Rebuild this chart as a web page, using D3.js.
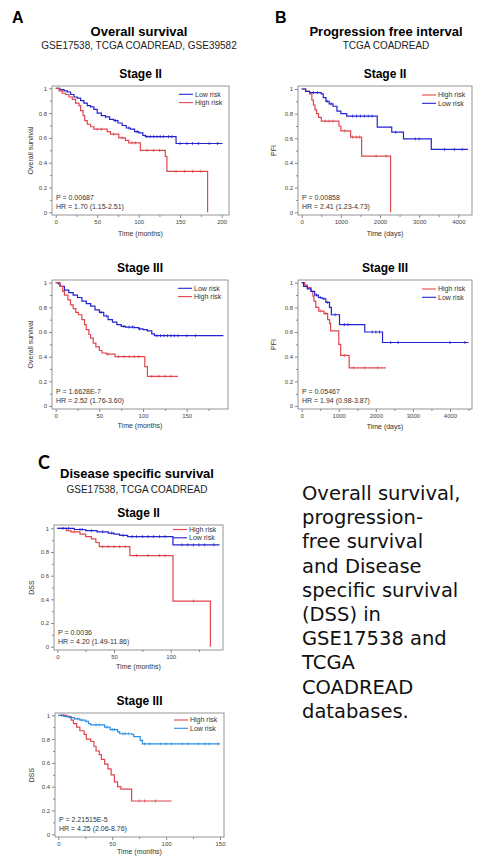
<!DOCTYPE html>
<html>
<head>
<meta charset="utf-8">
<script src="https://cdn.jsdelivr.net/npm/d3@7"></script>
<style>
  body { margin: 0; background: #fff; }
  svg { display: block; }
</style>
</head>
<body>
<script>
// ---- data ----
var yTicks = [0, 0.2, 0.4, 0.6, 0.8, 1];
var monthTicks = [0, 50, 100, 150, 200];
var dayTicks = [0, 1000, 2000, 3000, 4000];

// A: overall survival, stage II  [time (months), survival]
var osIILow = [[0,1],[5,0.99],[10,0.98],[14,0.97],[18,0.95],[22,0.93],[26,0.92],[30,0.9],[34,0.88],[38,0.86],[42,0.85],[46,0.83],[50,0.8],[55,0.78],[60,0.77],[65,0.75],[70,0.74],[75,0.72],[80,0.7],[85,0.68],[90,0.67],[95,0.65],[100,0.64],[105,0.62],[108,0.61],[145,0.555],[201,0.555]];
var osIILowCens = [60,72,88,98,110,114,118,122,126,130,136,140,150,158,165,172,185,195];
var osIIHigh = [[0,1],[4,0.98],[8,0.96],[12,0.95],[16,0.93],[20,0.91],[24,0.88],[28,0.86],[30,0.82],[33,0.78],[35,0.74],[38,0.71],[42,0.69],[46,0.67],[62,0.65],[66,0.63],[76,0.6],[84,0.58],[88,0.56],[102,0.5],[132,0.45],[134,0.33],[183,0]];
var osIIHighCens = [50,55,70,80,92,96,110,118,125,145,155,165,175];

// A: overall survival, stage III
var osIIILow = [[0,1],[3,0.99],[5,0.97],[10,0.94],[15,0.92],[20,0.9],[25,0.88],[30,0.85],[35,0.83],[40,0.81],[45,0.78],[50,0.76],[55,0.73],[60,0.7],[65,0.68],[70,0.66],[75,0.645],[80,0.64],[90,0.635],[95,0.625],[100,0.62],[105,0.61],[110,0.585],[113,0.57],[192,0.57]];
var osIIILowCens = [52,58,78,84,88,96,116,120,124,128,132,136,140,150,160];
var osIIIHigh = [[0,1],[5,0.97],[8,0.93],[10,0.9],[14,0.86],[17,0.82],[20,0.79],[23,0.76],[26,0.74],[30,0.7],[33,0.66],[35,0.62],[38,0.58],[40,0.55],[43,0.51],[46,0.48],[50,0.45],[53,0.43],[58,0.42],[68,0.4],[102,0.32],[105,0.24],[140,0.24]];
var osIIIHighCens = [60,72,78,84,90,95,110,118,125,132];

// B: progression free interval, stage II  [time (days), PFI]
var pfiIIHigh = [[0,1],[100,0.98],[200,0.96],[260,0.91],[300,0.87],[340,0.83],[380,0.8],[430,0.77],[500,0.74],[950,0.7],[1000,0.66],[1250,0.61],[1530,0.455],[2270,0]];
var pfiIIHighCens = [600,700,800,1100,1300,1400,1480,1900,2150];
var pfiIILow = [[0,1],[100,0.98],[200,0.97],[500,0.96],[550,0.93],[620,0.9],[700,0.88],[800,0.86],[900,0.82],[1000,0.8],[1150,0.78],[1930,0.69],[2300,0.65],[2600,0.595],[3310,0.51],[4250,0.51]];
var pfiIILowCens = [300,400,650,750,1300,1400,1500,1600,1700,1800,2400,2900,3000,3650,3900,4100];

// B: progression free interval, stage III
var pfiIIIHigh = [[0,1],[80,0.98],[150,0.96],[250,0.93],[300,0.89],[330,0.85],[380,0.8],[460,0.77],[600,0.75],[700,0.7],[750,0.67],[780,0.61],[1000,0.5],[1050,0.41],[1280,0.31],[2270,0.31]];
var pfiIIIHighCens = [500,650,1150,1400,1700,2050];
var pfiIIILow = [[0,1],[50,0.97],[150,0.95],[250,0.93],[350,0.9],[450,0.88],[550,0.87],[650,0.84],[750,0.8],[800,0.74],[1020,0.66],[1700,0.6],[2180,0.515],[4500,0.515]];
var pfiIIILowCens = [400,500,600,700,900,1150,1250,1900,2000,2100,2400,2600,4000,4400];

// C: disease specific survival, stage II  [time (months), DSS]
var dssIIHigh = [[0,1],[8,0.98],[12,0.97],[20,0.95],[25,0.93],[30,0.91],[34,0.88],[37,0.845],[64,0.77],[102,0.385],[135,0]];
var dssIIHighCens = [15,40,45,50,55,60,70,80,90,95,120];
var dssIILow = [[0,1],[15,0.99],[25,0.98],[35,0.97],[45,0.96],[50,0.95],[55,0.94],[62,0.93],[102,0.86],[143,0.86]];
var dssIILowCens = [5,10,20,22,30,40,48,58,66,70,75,80,85,90,95,110,115,120,125,130,138];

// C: disease specific survival, stage III
var dssIIIHigh = [[0,1],[8,0.99],[12,0.96],[14,0.93],[17,0.9],[20,0.87],[24,0.84],[26,0.8],[30,0.78],[33,0.74],[35,0.7],[38,0.67],[40,0.63],[43,0.59],[46,0.55],[49,0.5],[52,0.44],[55,0.4],[58,0.38],[68,0.28],[105,0.28]];
var dssIIIHighCens = [5,10,75,80,90];
var dssIIILow = [[0,1],[5,0.99],[10,0.98],[15,0.97],[20,0.96],[25,0.95],[28,0.93],[30,0.92],[43,0.9],[48,0.88],[55,0.86],[57,0.845],[68,0.84],[70,0.82],[76,0.79],[78,0.76],[150,0.76]];
var dssIIILowCens = [3,8,12,18,22,26,35,38,45,50,52,60,62,65,80,85,95,100,105,115,120,130,136,140,148];

var RED = "#e0474c", BLUE = "#2323cf", SKY = "#2e8fe3";

var paragraph = ["Overall survival,", "progression-", "free survival", "and Disease", "specific survival",
                 "(DSS) in", "GSE17538 and", "TCGA", "COADREAD", "databases."];

// ---- layout ----
var svg = d3.select("body").append("svg").attr("width", 478).attr("height", 857);

var plots = [
  {stage: "Stage II", left: 52, top: 86, right: 229, bottom: 215, x0: 55.7, tickMax: 200, x1: 221.7, yTop: 88.3, yBot: 212.3,
   xticks: monthTicks, minor: 25, xTitle: "Time (months)", yTitle: "Overall survival", yTitleX: 31, xTitleDy: 21,
   series: [{name: "Low risk", color: BLUE, pts: osIILow, cens: osIILowCens}, {name: "High risk", color: RED, pts: osIIHigh, cens: osIIHighCens}],
   legY: 8.3, p: "P = 0.00687", hr: "HR = 1.70 (1.15-2.51)"},
  {stage: "Stage III", left: 52, top: 280, right: 228, bottom: 409, x0: 55.7, tickMax: 150, x1: 186.7, yTop: 282.7, yBot: 406,
   xticks: monthTicks.slice(0, 4), minor: 25, xTitle: "Time (months)", yTitle: "Overall survival", yTitleX: 31, xTitleDy: 19,
   series: [{name: "Low risk", color: BLUE, pts: osIIILow, cens: osIIILowCens}, {name: "High risk", color: RED, pts: osIIIHigh, cens: osIIIHighCens}],
   legY: 8.3, p: "P = 1.6628E-7", hr: "HR = 2.52 (1.76-3.60)"},
  {stage: "Stage II", left: 298, top: 86, right: 472, bottom: 215, x0: 301.7, tickMax: 4000, x1: 458.3, yTop: 89, yBot: 212.3,
   xticks: dayTicks, minor: 500, xTitle: "Time (days)", yTitle: "PFI", yTitleX: 274, xTitleDy: 21,
   series: [{name: "High risk", color: RED, pts: pfiIIHigh, cens: pfiIIHighCens}, {name: "Low risk", color: BLUE, pts: pfiIILow, cens: pfiIILowCens}],
   legY: 9, p: "P = 0.00858", hr: "HR = 2.41 (1.23-4.73)"},
  {stage: "Stage III", left: 298, top: 280, right: 472, bottom: 409, x0: 301.7, tickMax: 4000, x1: 450, yTop: 282.7, yBot: 406,
   xticks: dayTicks, minor: 500, xTitle: "Time (days)", yTitle: "PFI", yTitleX: 274, xTitleDy: 20,
   series: [{name: "High risk", color: RED, pts: pfiIIIHigh, cens: pfiIIIHighCens}, {name: "Low risk", color: BLUE, pts: pfiIIILow, cens: pfiIIILowCens}],
   legY: 9, p: "P = 0.05467", hr: "HR = 1.94 (0.98-3.87)"},
  {stage: "Stage II", left: 54, top: 525, right: 223, bottom: 650, x0: 57.3, tickMax: 100, x1: 170.7, yTop: 528.3, yBot: 646.7,
   xticks: [0, 50, 100], minor: 25, xTitle: "Time (months)", yTitle: "DSS", yTitleX: 32, xTitleDy: 19,
   series: [{name: "High risk", color: RED, pts: dssIIHigh, cens: dssIIHighCens}, {name: "Low risk", color: BLUE, pts: dssIILow, cens: dssIILowCens}],
   legY: 4.5, p: "P = 0.0036", hr: "HR = 4.20 (1.49-11.86)"},
  {stage: "Stage III", left: 55, top: 713, right: 224, bottom: 837, x0: 58.3, tickMax: 150, x1: 220, yTop: 715.3, yBot: 834.3,
   xticks: [0, 50, 100, 150], minor: 25, xTitle: "Time (months)", yTitle: "DSS", yTitleX: 32, xTitleDy: 17,
   series: [{name: "High risk", color: RED, pts: dssIIIHigh, cens: dssIIIHighCens}, {name: "Low risk", color: SKY, pts: dssIIILow, cens: dssIIILowCens}],
   legY: 7, p: "P = 2.21515E-5", hr: "HR = 4.25 (2.06-8.76)"}
];

// panel headers
var headers = [
  {letter: "A", lx: 12, ly: 23, lfont: "bold 16px 'Liberation Sans', Arial, sans-serif",
   title: "Overall survival", sub: "GSE17538, TCGA COADREAD, GSE39582", cx: 139, ty: 36, sy: 49},
  {letter: "B", lx: 275, ly: 23, lfont: "bold 16px 'Liberation Sans', Arial, sans-serif",
   title: "Progression free interval", sub: "TCGA COADREAD", cx: 386, ty: 36, sy: 49},
  {letter: "C", lx: 38, ly: 469, lfont: "bold 18px Lato, 'Open Sans', sans-serif",
   title: "Disease specific survival", sub: "GSE17538, TCGA COADREAD", cx: 137, ty: 478, sy: 493}
];

headers.forEach(function(h) {
  svg.append("text").attr("x", h.lx).attr("y", h.ly)
    .style("font", h.lfont).text(h.letter);
  svg.append("text").attr("x", h.cx).attr("y", h.ty).attr("text-anchor", "middle")
    .style("font", "bold 13px 'Liberation Sans', Arial, sans-serif").text(h.title);
  svg.append("text").attr("x", h.cx).attr("y", h.sy).attr("text-anchor", "middle")
    .style("font", "10px 'Liberation Sans', Arial, sans-serif").attr("fill", "#222").text(h.sub);
});

function survAt(pts, t) {
  var s = pts[0][1];
  for (var i = 0; i < pts.length; i++) {
    if (pts[i][0] <= t) s = pts[i][1];
  }
  return s;
}

function drawPlot(p) {
  var g = svg.append("g");
  var x = d3.scaleLinear().domain([0, p.tickMax]).range([p.x0, p.x1]);
  var y = d3.scaleLinear().domain([0, 1]).range([p.yBot, p.yTop]);
  var xEnd = x.invert(p.right);

  g.append("text").attr("x", (p.left + p.right) / 2).attr("y", p.top - 8).attr("text-anchor", "middle")
    .style("font", "bold 12px 'Liberation Sans', Arial, sans-serif").text(p.stage);

  // minor ticks
  g.append("g").attr("transform", "translate(" + p.left + ",0)")
    .call(d3.axisLeft(y).tickValues(d3.range(0.1, 1, 0.2)).tickSize(2).tickFormat(""))
    .call(function(a) { a.select(".domain").remove(); a.selectAll("line").attr("stroke", "#888"); });
  g.append("g").attr("transform", "translate(0," + p.bottom + ")")
    .call(d3.axisBottom(x).tickValues(d3.range(p.minor, xEnd, p.minor * 2)).tickSize(2).tickFormat(""))
    .call(function(a) { a.select(".domain").remove(); a.selectAll("line").attr("stroke", "#888"); });

  // major ticks
  g.append("g").attr("transform", "translate(" + p.left + ",0)")
    .call(d3.axisLeft(y).tickValues(yTicks).tickSize(3).tickPadding(2).tickFormat(d3.format("")))
    .call(function(a) {
      a.select(".domain").remove();
      a.selectAll("line").attr("stroke", "#888");
      a.selectAll("text").attr("fill", "#444").style("font", "6px 'Liberation Sans', Arial, sans-serif");
    });
  g.append("g").attr("transform", "translate(0," + p.bottom + ")")
    .call(d3.axisBottom(x).tickValues(p.xticks).tickSize(3).tickPadding(2).tickFormat(d3.format("")))
    .call(function(a) {
      a.select(".domain").remove();
      a.selectAll("line").attr("stroke", "#888");
      a.selectAll("text").attr("fill", "#444").style("font", "6px 'Liberation Sans', Arial, sans-serif");
    });

  g.append("rect").attr("x", p.left).attr("y", p.top)
    .attr("width", p.right - p.left).attr("height", p.bottom - p.top)
    .attr("fill", "none").attr("stroke", "#8a8a8a").attr("stroke-width", 0.9);

  g.append("text").attr("x", (p.left + p.right) / 2).attr("y", p.bottom + p.xTitleDy).attr("text-anchor", "middle")
    .attr("fill", "#333").style("font", "7px 'Liberation Sans', Arial, sans-serif").text(p.xTitle);
  g.append("text").attr("transform", "translate(" + p.yTitleX + "," + ((p.top + p.bottom) / 2) + ") rotate(-90)")
    .attr("text-anchor", "middle").attr("dy", "0.35em")
    .attr("fill", "#333").style("font", "7px 'Liberation Sans', Arial, sans-serif").text(p.yTitle);

  var line = d3.line().curve(d3.curveStepAfter)
    .x(function(d) { return x(d[0]); })
    .y(function(d) { return y(d[1]); });

  p.series.forEach(function(s) {
    g.append("path").datum(s.pts).attr("d", line)
      .attr("fill", "none").attr("stroke", s.color).attr("stroke-width", 1.2);
    g.selectAll(null).data(s.cens).enter().append("line")
      .attr("x1", function(t) { return x(t); }).attr("x2", function(t) { return x(t); })
      .attr("y1", function(t) { return y(survAt(s.pts, t)) - 1.5; })
      .attr("y2", function(t) { return y(survAt(s.pts, t)) + 1.5; })
      .attr("stroke", s.color).attr("stroke-width", 0.8);
  });

  // legend
  p.series.forEach(function(s, i) {
    var ly = p.top + p.legY + i * 8.3;
    g.append("line").attr("x1", p.right - 50).attr("x2", p.right - 36).attr("y1", ly).attr("y2", ly)
      .attr("stroke", s.color).attr("stroke-width", 1.1);
    g.append("text").attr("x", p.right - 34).attr("y", ly).attr("dy", "0.35em")
      .attr("fill", "#333").style("font", "7px 'Liberation Sans', Arial, sans-serif").text(s.name);
  });

  g.append("text").attr("x", p.left + 4).attr("y", p.bottom - 15.5)
    .attr("fill", "#333").style("font", "7px 'Liberation Sans', Arial, sans-serif").text(p.p);
  g.append("text").attr("x", p.left + 4).attr("y", p.bottom - 6)
    .attr("fill", "#333").style("font", "7px 'Liberation Sans', Arial, sans-serif").text(p.hr);
}

plots.forEach(drawPlot);

// caption on the right
svg.append("g").selectAll("text").data(paragraph).enter().append("text")
  .attr("x", 302).attr("y", function(d, i) { return 500 + i * 24.2; })
  .style("font", "19.5px 'DejaVu Sans', sans-serif").attr("fill", "#111")
  .text(function(d) { return d; });
</script>
</body>
</html>
